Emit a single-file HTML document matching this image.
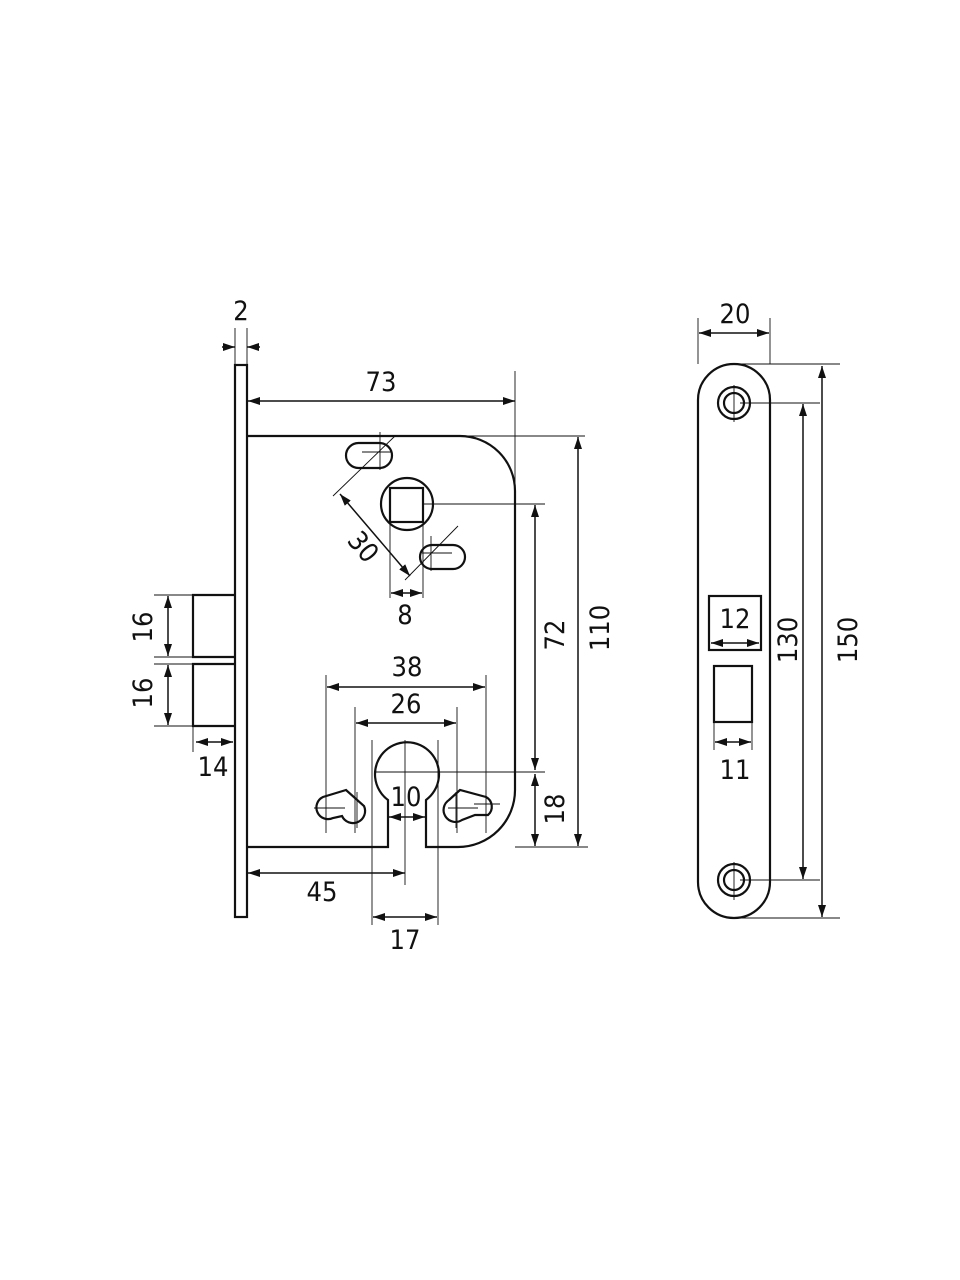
<!DOCTYPE html>
<html><head><meta charset="utf-8"><style>
html,body{margin:0;padding:0;background:#fff;}
svg{display:block}
text{font-family:"DejaVu Sans Condensed","Liberation Sans",sans-serif;font-size:27px;fill:#111;text-anchor:middle;}
</style></head><body>
<svg width="960" height="1280" viewBox="0 0 960 1280" xmlns="http://www.w3.org/2000/svg">
<defs>
<marker id="a" viewBox="0 0 12 8" refX="12" refY="4" markerWidth="12" markerHeight="8" orient="auto-start-reverse" markerUnits="userSpaceOnUse"><path d="M0,0 L12,4 L0,8 z" fill="#111"/></marker>
</defs>
<g fill="none" stroke="#111" stroke-width="2.2">
<rect x="235" y="365" width="12" height="552"/>
<path d="M247,436 H460 A55,55 0 0 1 515,491 V790 A57,57 0 0 1 458,847 H426 V800 A32,32 0 1 0 388,800 V847 H247"/>
<path d="M235,595 H193 V657 H235 M235,664 H193 V726 H235"/>
<rect x="346" y="443" width="46" height="25" rx="12.5"/>
<rect x="420" y="545" width="45" height="24" rx="12"/>
<circle cx="407" cy="504" r="26"/>
<rect x="390" y="488" width="33" height="34"/>
<path d="M346,790 L323,797 A11,11 0 0 0 333,818 L342,816 A12,12 0 0 0 364,806 Z"/>
<path d="M460,790 L449,800 A11,11 0 0 0 462,820 L475,815 L488,815 A11,11 0 0 0 486,797 Z"/>
<path d="M698,400 A36,36 0 0 1 770,400 V882 A36,36 0 0 1 698,882 Z"/>
<circle cx="734" cy="403" r="16"/><circle cx="734" cy="403" r="10"/>
<circle cx="734" cy="880" r="16"/><circle cx="734" cy="880" r="10"/>
<rect x="709" y="596" width="52" height="54"/>
<rect x="714" y="666" width="38" height="56"/>
</g>
<g fill="none" stroke="#111" stroke-width="0.9">
<path d="M235,328 V365 M247,328 V365"/>
<path d="M515,371 V490 M460,436 H585 M423,504 H545 M515,772 H545 M515,847 H588"/>
<path d="M380,432 V470 M362,452 H392 M431,536 V571 M422,553 H452"/>
<path d="M333,496 L395,436 M405,580 L458,526"/>
<path d="M390,522 V598 M423,522 V598"/>
<path d="M154,595 H193 M154,657 H235 M154,664 H235 M154,726 H193 M193,726 V752"/>
<path d="M326,675 V833 M486,675 V833 M355,707 V833 M457,707 V833 M372,740 V925 M438,740 V925 M405,740 V885 M374,772 H515"/>
<path d="M314,808 H345 M357,792 V828 M448,808 H478 M456,792 V828 M474,804 H500"/>
<path d="M698,318 V364 M770,318 V364"/>
<path d="M734,385 V422 M734,862 V900 M740,403 H820 M740,880 H820 M734,364 H840 M734,918 H840"/>
<path d="M714,722 V750 M752,722 V750"/>
</g>
<g stroke="#111" stroke-width="1.5" fill="none">
<line x1="222" y1="347" x2="235" y2="347" marker-end="url(#a)"/>
<line x1="260" y1="347" x2="247" y2="347" marker-end="url(#a)"/>
<line x1="248" y1="401" x2="515" y2="401" marker-start="url(#a)" marker-end="url(#a)"/>
<line x1="340" y1="494" x2="410" y2="576" marker-start="url(#a)" marker-end="url(#a)"/>
<line x1="391" y1="593" x2="422" y2="593" marker-start="url(#a)" marker-end="url(#a)"/>
<line x1="168" y1="596" x2="168" y2="656" marker-start="url(#a)" marker-end="url(#a)"/>
<line x1="168" y1="665" x2="168" y2="725" marker-start="url(#a)" marker-end="url(#a)"/>
<line x1="196" y1="742" x2="233" y2="742" marker-start="url(#a)" marker-end="url(#a)"/>
<line x1="327" y1="687" x2="485" y2="687" marker-start="url(#a)" marker-end="url(#a)"/>
<line x1="356" y1="723" x2="456" y2="723" marker-start="url(#a)" marker-end="url(#a)"/>
<line x1="389" y1="817" x2="425" y2="817" marker-start="url(#a)" marker-end="url(#a)"/>
<line x1="248" y1="873" x2="405" y2="873" marker-start="url(#a)" marker-end="url(#a)"/>
<line x1="373" y1="917" x2="437" y2="917" marker-start="url(#a)" marker-end="url(#a)"/>
<line x1="535" y1="505" x2="535" y2="770" marker-start="url(#a)" marker-end="url(#a)"/>
<line x1="535" y1="774" x2="535" y2="846" marker-start="url(#a)" marker-end="url(#a)"/>
<line x1="578" y1="437" x2="578" y2="846" marker-start="url(#a)" marker-end="url(#a)"/>
<line x1="699" y1="333" x2="769" y2="333" marker-start="url(#a)" marker-end="url(#a)"/>
<line x1="803" y1="404" x2="803" y2="879" marker-start="url(#a)" marker-end="url(#a)"/>
<line x1="822" y1="366" x2="822" y2="917" marker-start="url(#a)" marker-end="url(#a)"/>
<line x1="711" y1="643" x2="759" y2="643" marker-start="url(#a)" marker-end="url(#a)"/>
<line x1="715" y1="742" x2="751" y2="742" marker-start="url(#a)" marker-end="url(#a)"/>
</g>
<g>
<text x="241" y="320">2</text>
<text x="381" y="391">73</text>
<text x="405" y="624">8</text>
<text x="407" y="676">38</text>
<text x="406" y="713">26</text>
<text x="406" y="806">10</text>
<text x="213" y="776">14</text>
<text x="322" y="901">45</text>
<text x="405" y="949">17</text>
<text x="735" y="323">20</text>
<text x="735" y="628">12</text>
<text x="735" y="779">11</text>
<text transform="translate(363,547) rotate(50)" y="9">30</text>
<text transform="translate(143,627) rotate(-90)" y="9">16</text>
<text transform="translate(143,693) rotate(-90)" y="9">16</text>
<text transform="translate(555,635) rotate(-90)" y="9">72</text>
<text transform="translate(555,809) rotate(-90)" y="9">18</text>
<text transform="translate(600,628) rotate(-90)" y="9">110</text>
<text transform="translate(788,640) rotate(-90)" y="9">130</text>
<text transform="translate(848,640) rotate(-90)" y="9">150</text>
</g>
</svg>
</body></html>
